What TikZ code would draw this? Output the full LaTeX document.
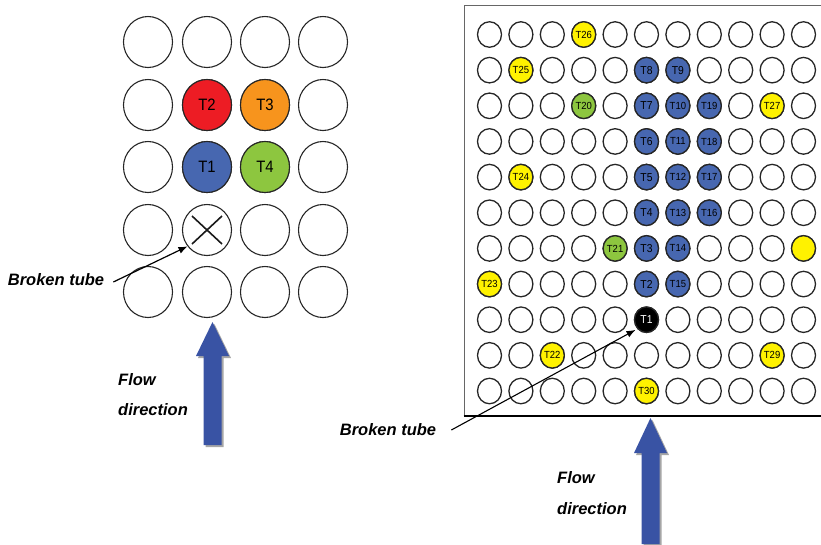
\documentclass[tikz,border=0pt]{standalone}
\usepackage{fontspec}
\setmainfont{Liberation Sans}
\newfontfamily\narrowfont[FakeStretch=0.9]{Liberation Sans}
\newfontfamily\narrowerfont[FakeStretch=0.92]{Liberation Sans}
\usetikzlibrary{shapes.geometric,arrows.meta}
\definecolor{tred}{HTML}{ED1C24}
\definecolor{torange}{HTML}{F7941D}
\definecolor{tblue}{HTML}{4767B0}
\definecolor{tgreen}{HTML}{8DC63F}
\definecolor{tyel}{HTML}{FFF200}
\definecolor{flowblue}{HTML}{3953A4}
\begin{document}
\begin{tikzpicture}[x=1pt,y=-1pt,
  bigcell/.style={ellipse,draw=black!85,line width=1.1pt,minimum width=49pt,minimum height=51pt,inner sep=0pt},
  smallcell/.style={ellipse,draw=black!85,line width=1.3pt,minimum width=24pt,minimum height=25.5pt,inner sep=0pt},
  biglab/.style={font=\narrowfont\fontsize{16.5}{16.5}\selectfont,inner sep=0pt},
  lab/.style={font=\narrowfont\fontsize{11.5}{11.5}\selectfont,inner sep=0pt},
  lab3/.style={font=\narrowerfont\fontsize{10.3}{10.3}\selectfont,inner sep=0pt},
  txt/.style={font=\fontsize{16.5}{16.5}\selectfont\bfseries\itshape,inner sep=0pt},
  pointer/.style={line width=1.2pt,-{Latex[length=9pt,width=7pt]}}]
\useasboundingbox (0,0) rectangle (821,544);
% ---------- left grid ----------
\foreach \r/\y in {1/42,2/105,3/167,4/230,5/292}
  \foreach \c/\x in {1/148,2/207,3/265,4/323}
    \node[bigcell] (L\r\c) at (\x,\y) {};
\node[bigcell,fill=tred,label={[biglab]center:T2}] (lT2) at (L22) {};
\node[bigcell,fill=torange,label={[biglab]center:T3}] (lT3) at (L23) {};
\node[bigcell,fill=tblue,label={[biglab]center:T1}] (lT1) at (L32) {};
\node[bigcell,fill=tgreen,label={[biglab]center:T4}] (lT4) at (L33) {};
\draw[line width=1.6pt,black!90] ([shift={(-15,-14)}]L42.center) -- ([shift={(15,14)}]L42.center);
\draw[line width=1.6pt,black!90] ([shift={(15,-14)}]L42.center) -- ([shift={(-15,14)}]L42.center);
\node[txt] (bt1) at (56,280) {Broken tube};
\draw[pointer] ([xshift=9pt,yshift=-2pt]bt1.east) -- (L42.220);
\node[txt,anchor=west] (fl1) at (118,380) {Flow};
\node[txt,anchor=west] (dir1) at (118,410) {direction};
\fill[black!35] (214.5,324) -- (231,358) -- (223.5,358) -- (223.5,447) -- (205.5,447) -- (205.5,358) -- (198,358) -- cycle;
\fill[flowblue] (212.5,322) -- (229,356) -- (221.5,356) -- (221.5,445) -- (203.5,445) -- (203.5,356) -- (196,356) -- cycle;
% ---------- right grid ----------
\draw[black!60,line width=0.8pt] (464,416) -- (464,5.5) -- (821,5.5);
\draw[black,line width=2pt] (463.5,416) -- (821,416);
\foreach \r in {1,...,11}
  \foreach \c in {1,...,11}
    \node[smallcell] (R\r-\c) at ({489.5+31.4*(\c-1)},{34.5+35.65*(\r-1)}) {};
\foreach \r/\c/\t in {2/6/T8,2/7/T9,3/6/T7,4/6/T6,5/6/T5,6/6/T4,7/6/T3,8/6/T2}
  \node[smallcell,fill=tblue,label={[lab]center:\t}] (r\t) at (R\r-\c) {};
\foreach \r/\c/\t in {3/7/T10,3/8/T19,4/7/T11,4/8/T18,5/7/T12,5/8/T17,6/7/T13,6/8/T16,7/7/T14,8/7/T15}
  \node[smallcell,fill=tblue,label={[lab3]center:\t}] (r\t) at (R\r-\c) {};
\foreach \r/\c/\t in {3/4/T20,7/5/T21}
  \node[smallcell,fill=tgreen,label={[lab3]center:\t}] (r\t) at (R\r-\c) {};
\foreach \r/\c/\t in {1/4/T26,2/2/T25,3/10/T27,5/2/T24,8/1/T23,10/3/T22,10/10/T29,11/6/T30}
  \node[smallcell,fill=tyel,label={[lab3]center:\t}] (r\t) at (R\r-\c) {};
\node[smallcell,fill=tyel] (rY) at (R7-11) {};
\node[smallcell,fill=black,label={[lab,text=white]center:T1}] (rT1) at (R9-6) {};
\node[txt] (bt2) at (388,430) {Broken tube};
\draw[pointer,line width=1.1pt,shorten >=2pt] ([xshift=15pt]bt2.east) -- (rT1.225);
\node[txt,anchor=west] (fl2) at (557,478) {Flow};
\node[txt,anchor=west] (dir2) at (557,509) {direction};
\fill[black!35] (652.5,420) -- (669,455) -- (661.5,455) -- (661.5,546) -- (643.5,546) -- (643.5,455) -- (636,455) -- cycle;
\fill[flowblue] (650.5,418) -- (667,453) -- (659.5,453) -- (659.5,544) -- (641.5,544) -- (641.5,453) -- (634,453) -- cycle;
\end{tikzpicture}
\end{document}
